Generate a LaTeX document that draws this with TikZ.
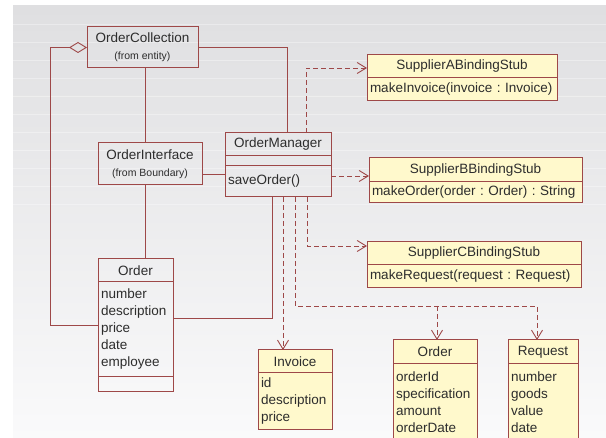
\documentclass[tikz,border=0pt]{standalone}
\usepackage{fontspec}
\setmainfont{Liberation Sans}
\usetikzlibrary{arrows.meta}

\definecolor{umlred}{RGB}{158,72,72}
\definecolor{stubfill}{RGB}{255,249,204}
\definecolor{umltext}{RGB}{45,45,45}
\definecolor{bgtop}{RGB}{223,223,225}
\definecolor{bgbot}{RGB}{250,250,251}

\newcommand{\fromtag}[1]{{\fontsize{10.5}{13}\selectfont(from #1)}}
\frenchspacing

\tikzset{
  part/.style={draw=umlred, line width=1pt, inner sep=0pt, outer sep=0pt,
    anchor=north west, text=umltext, font=\fontsize{13.5}{17}\selectfont},
  head/.style={part, align=center},
  body/.style={part, minimum width=#1, text width=#1-6pt, align=left, inner xsep=3pt},
  stubhead/.style={head, fill=stubfill},
  stubbody/.style={body=#1, fill=stubfill},
  assoc/.style={draw=umlred, line width=0.9pt},
  dep/.style={draw=umlred, line width=0.9pt, dash pattern=on 5pt off 3pt, ->}
}

\begin{document}
\begin{tikzpicture}[x=1pt, y=-1pt, >={Straight Barb[length=9pt, width=11pt]}]

\clip (0,0) rectangle (606,438);
\shade[top color=bgtop, bottom color=bgbot] (13,6) rectangle (606,438);
\foreach \y in {24,42,...,204}
  \draw[white, opacity=0.35] (13,\y) -- (606,\y);

% Entity and boundary classes
\node[head, minimum width=111pt, minimum height=41pt] (oc) at (87,27) {OrderCollection\\\fromtag{entity}};
\node[head, minimum width=104pt, minimum height=42pt] (oi) at (98,143) {OrderInterface\\\fromtag{Boundary}};

% Controller
\node[head, minimum width=106pt, minimum height=23pt] (omt) at (225,133) {OrderManager};
\node[body=106pt, minimum height=10pt] (oma) at (omt.south west) {};
\node[body=106pt, minimum height=31pt] (omo) at (oma.south west) {saveOrder()};

% Order
\node[head, minimum width=75pt, minimum height=23pt] (ordt) at (98,259) {Order};
\node[body=75pt, minimum height=95pt] (orda) at (ordt.south west) {number\\description\\price\\date\\employee};
\node[body=75pt, minimum height=15pt] (ordo) at (orda.south west) {};

% Binding stubs
\node[stubhead, minimum width=190pt, minimum height=23pt] (supAt) at (367,55) {SupplierABindingStub};
\node[stubbody=190pt, minimum height=23pt] (supAo) at (supAt.south west) {\mbox{makeInvoice(invoice : Invoice)}};

\node[stubhead, minimum width=213pt, minimum height=24pt] (supBt) at (369,158) {SupplierBBindingStub};
\node[stubbody=213pt, minimum height=21pt] (supBo) at (supBt.south west) {\mbox{makeOrder(order : Order) : String}};

\node[stubhead, minimum width=214pt, minimum height=23pt] (supCt) at (367,242) {SupplierCBindingStub};
\node[stubbody=214pt, minimum height=23pt] (supCo) at (supCt.south west) {\mbox{makeRequest(request : Request)}};

% Data classes
\node[stubhead, minimum width=74pt, minimum height=23pt] (invt) at (258,350) {Invoice};
\node[stubbody=74pt, minimum height=57pt] (inva) at (invt.south west) {id\\description\\price};

\node[stubhead, minimum width=84pt, minimum height=24pt] (ord2t) at (393,340) {Order};
\node[stubbody=84pt, minimum height=76pt] (ord2a) at (ord2t.south west) {orderId\\specification\\amount\\orderDate};

\node[stubhead, minimum width=70pt, minimum height=24pt] (reqt) at (508,340) {Request};
\node[stubbody=70pt, minimum height=76pt] (reqa) at (reqt.south west) {number\\goods\\value\\date};

% Associations
\coordinate (trunk) at (145,0);
\coordinate (agg) at (50,0);
\draw[assoc, {Diamond[open, length=18pt, width=11pt]}-] (oc.west) -- (oc.west -| agg) |- ([yshift=4pt]orda.west);
\draw[assoc] (oc.east) -| ([xshift=9pt]omt.north);
\draw[assoc] (oc.south -| trunk) -- (oi.north -| trunk);
\draw[assoc] (oi.south -| trunk) -- (ordt.north -| trunk);
\draw[assoc] ([yshift=-10pt]oi.east) coordinate (oi0) -- (oi0 -| omo.west);
\draw[assoc] ([yshift=11.5pt]orda.east) -| ([xshift=-6pt]omo.south);

% Dependencies
\coordinate (bus) at (0,306);
\coordinate (reqin) at ([xshift=-6pt]reqt.north);
\coordinate (ordin) at ([xshift=2pt]ord2t.north);
\draw[dep] ([xshift=28pt]omt.north) |- ([yshift=-1.5pt]supAt.west);
\draw[dep] ([yshift=5.5pt]omo.east) coordinate (b0) -- (b0 -| supBt.west);
\draw[dep] ([xshift=29pt]omo.south) |- ([yshift=7.5pt]supCt.west);
\draw[dep] ([xshift=5pt]omo.south) coordinate (i0) -- (i0 |- invt.north);
\draw[dep] ([xshift=17pt]omo.south) |- (reqin |- bus) -- (reqin);
\draw[dep] (ordin |- bus) -- (ordin);

\end{tikzpicture}
\end{document}
